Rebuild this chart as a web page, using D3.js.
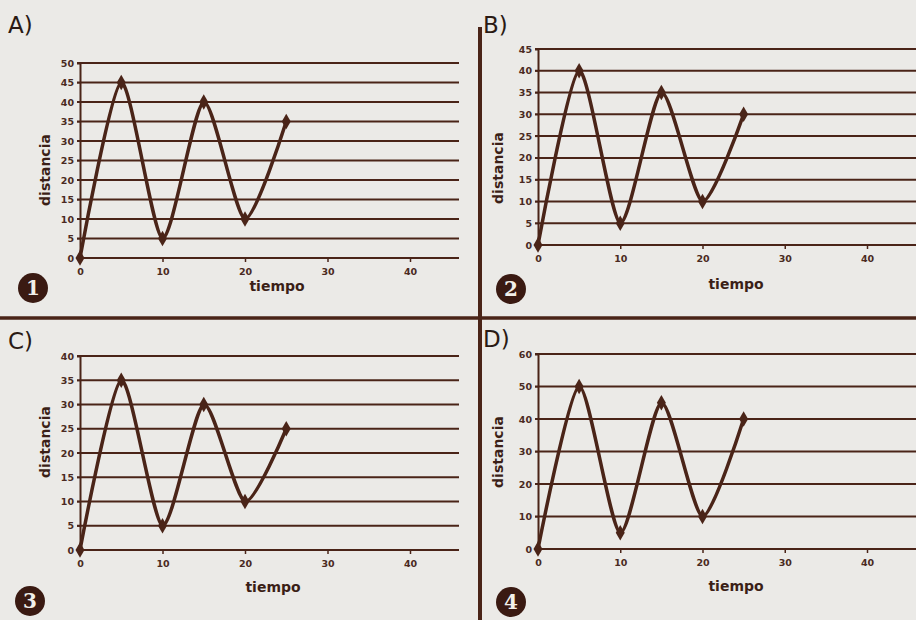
<!DOCTYPE html>
<html lang="es">
<head>
<meta charset="utf-8">
<title>distancia vs tiempo</title>
<script src="https://cdn.jsdelivr.net/npm/d3@7"></script>
<style>
  body { margin: 0; background: #ebeae7; }
  svg { display: block; }
  .tick text { font-family: "DejaVu Sans", sans-serif; font-size: 9.5px; font-weight: bold; fill: #4a2a22; }
  .axlab { font-family: "DejaVu Sans", sans-serif; font-size: 14px; font-weight: bold; fill: #3b1f17; }
  .letter { font-family: "DejaVu Sans", sans-serif; font-size: 23px; fill: #2a1a14; }
  .num { font-family: "DejaVu Serif", serif; font-size: 20px; font-weight: bold; fill: #f2efe9; }
</style>
</head>
<body>
<div class="chart"></div>
<script>
// tiempo (x) shared by all four graphs
var tiempo = [0, 5, 10, 15, 20, 25];
var xTicks = [0, 10, 20, 30, 40];

// distancia (y) per option
var distA = [0, 45, 5, 40, 10, 35];
var distB = [0, 40, 5, 35, 10, 30];
var distC = [0, 35, 5, 30, 10, 25];
var distD = [0, 50, 5, 45, 10, 40];

var yTicksA = [0, 5, 10, 15, 20, 25, 30, 35, 40, 45, 50];
var yTicksB = [0, 5, 10, 15, 20, 25, 30, 35, 40, 45];
var yTicksC = [0, 5, 10, 15, 20, 25, 30, 35, 40];
var yTicksD = [0, 10, 20, 30, 40, 50, 60];

var letters = ["A)", "B)", "C)", "D)"];
var numbers = ["1", "2", "3", "4"];

var w = 916, h = 620;
var ink = "#4a2418";

var svg = d3.select("div.chart").append("svg")
  .attr("width", w).attr("height", h);

// panel layout
var panels = [
  { d: distA, yt: yTicksA, x0: 80, x1: 410, gridEnd: 459, yTop: 63, yBot: 258, letter: [8, 33], num: [33, 288], lab: [45, 170, 277, 291] },
  { d: distB, yt: yTicksB, x0: 538, x1: 867, gridEnd: 916, yTop: 49, yBot: 245, letter: [483, 33], num: [511, 289], lab: [498, 168, 736, 289] },
  { d: distC, yt: yTicksC, x0: 80, x1: 410, gridEnd: 459, yTop: 356, yBot: 550, letter: [8, 349], num: [30, 601], lab: [45, 442, 273, 592] },
  { d: distD, yt: yTicksD, x0: 538, x1: 867, gridEnd: 916, yTop: 354, yBot: 549, letter: [483, 347], num: [511, 602], lab: [498, 452, 736, 591] }
];

// dividers
svg.append("line").attr("x1", 0).attr("x2", w).attr("y1", 318).attr("y2", 318)
  .attr("stroke", ink).attr("stroke-width", 3.5);
svg.append("line").attr("x1", 480).attr("x2", 480).attr("y1", 27).attr("y2", h)
  .attr("stroke", ink).attr("stroke-width", 4);

panels.forEach(function(p, i) {
  var yMax = p.yt[p.yt.length - 1];
  var x = d3.scaleLinear().domain([0, 40]).range([p.x0, p.x1]);
  var y = d3.scaleLinear().domain([0, yMax]).range([p.yBot, p.yTop]);
  var g = svg.append("g");

  // horizontal gridlines
  g.selectAll(".grid").data(p.yt).enter().append("line")
    .attr("x1", p.x0 - 3).attr("x2", p.gridEnd)
    .attr("y1", function(d) { return y(d); }).attr("y2", function(d) { return y(d); })
    .attr("stroke", ink).attr("stroke-width", 2);

  // y axis
  var ya = g.append("g").attr("transform", "translate(" + p.x0 + ",0)")
    .call(d3.axisLeft(y).tickValues(p.yt).tickSize(3).tickPadding(3));
  ya.select(".domain").attr("stroke", ink).attr("stroke-width", 2);
  ya.selectAll(".tick line").attr("stroke", ink);

  // x axis
  var xa = g.append("g").attr("transform", "translate(0," + p.yBot + ")")
    .call(d3.axisBottom(x).tickValues(xTicks).tickSize(4).tickPadding(6));
  xa.select(".domain").remove();
  xa.selectAll(".tick line").attr("stroke", ink).attr("stroke-width", 1.5);

  // curve
  var line = d3.line()
    .x(function(d, k) { return x(tiempo[k]); })
    .y(function(d) { return y(d); })
    .curve(d3.curveCardinal.tension(0.3));
  g.append("path").datum(p.d).attr("d", line)
    .attr("fill", "none").attr("stroke", ink).attr("stroke-width", 3.5);

  g.selectAll(".pt").data(p.d).enter().append("path")
    .attr("d", d3.symbol().type(d3.symbolDiamond).size(70))
    .attr("transform", function(d, k) { return "translate(" + x(tiempo[k]) + "," + y(d) + ")"; })
    .attr("fill", ink);

  // axis titles
  g.append("text").attr("class", "axlab")
    .attr("transform", "translate(" + p.lab[0] + "," + p.lab[1] + ") rotate(-90)")
    .attr("text-anchor", "middle").attr("dy", "0.35em").text("distancia");
  g.append("text").attr("class", "axlab")
    .attr("x", p.lab[2]).attr("y", p.lab[3]).attr("text-anchor", "middle").text("tiempo");

  // option letter
  g.append("text").attr("class", "letter")
    .attr("x", p.letter[0]).attr("y", p.letter[1]).text(letters[i]);

  // circled number
  g.append("circle").attr("cx", p.num[0]).attr("cy", p.num[1]).attr("r", 15).attr("fill", "#3a1a12");
  g.append("text").attr("class", "num").attr("x", p.num[0]).attr("y", p.num[1])
    .attr("text-anchor", "middle").attr("dy", "0.36em").text(numbers[i]);
});
</script>
</body>
</html>
